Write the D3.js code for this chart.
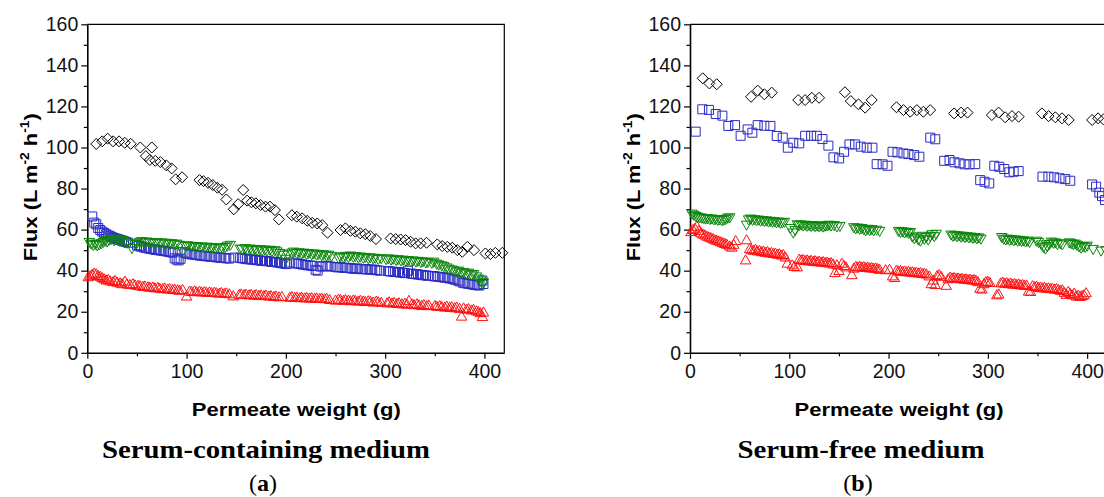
<!DOCTYPE html>
<html>
<head>
<meta charset="utf-8">
<script src="https://cdn.jsdelivr.net/npm/d3@7"></script>
<style>
  html, body { margin: 0; padding: 0; background: #fff; }
  svg { display: block; }
  .tick text { font-family: "Liberation Sans", Arial, sans-serif; font-size: 19.5px; fill: #111; }
</style>
</head>
<body>
<svg id="chart" width="1104" height="497"></svg>
<script>
// ---- axis ticks ----
const xTickValues = [0, 100, 200, 300, 400];
const xMinorTicks = [50, 150, 250, 350];
const yTickValues = [0, 20, 40, 60, 80, 100, 120, 140, 160];
const yMinorTicks = [10, 30, 50, 70, 90, 110, 130, 150];

// ---- (a) serum-containing medium: [permeate weight g, flux L m-2 h-1] ----
const aDiamond = [[9,101.7],[15,103],[20.5,104.3],[26,103],[32,103],[37.7,102.3],[43.7,101.8],[53.4,100],[59,95.8],[63,93.9],[65,100],[68.5,93.5],[73.6,92.9],[79.6,91.3],[85,89.8],[89,84.5],[95.5,85.5],[113,84.1],[117,83.6],[121.6,82.8],[126.4,81.7],[131,80.4],[135.8,79.4],[140,74.7],[147.5,69.9],[152,72.4],[157,79.3],[161,74.1],[165.3,73.3],[169.8,72.8],[174.5,72],[179.5,71.2],[184,71.2],[189,69.5],[193,65],[206,67],[211,66.3],[216.4,65.5],[221.5,64.3],[226.5,63.3],[231.6,63],[236.6,62.2],[242,58.5],[255,59.8],[260,60.6],[265,59.4],[270,59],[275,58.2],[280,57.8],[285,56.9],[290.7,55.4],[305.5,55.7],[310.6,55.4],[315.6,55.2],[320.6,54.9],[325.6,54.1],[330.7,53.3],[335.7,53.3],[341.7,53.6],[352.5,52.8],[357.5,52],[362.6,51.6],[367.6,51.2],[372.7,50],[377.7,49.2],[382.8,51.6],[389.5,50],[401,48.4],[406,48.1],[411,48.7],[418,48.7]];

const aSquare = [[5,66.4],[7,63.4],[9,62.6],[11,60.8],[13,59.8],[15,59.0],[17,58.4],[19,57.8],[21,57.2],[23,56.8],[25,56.3],[27,55.9],[29,55.6],[31,55.3],[33,55.0],[35,54.6],[37,54.3],[39,54.0],[41,53.6],
  [50,52.4],[52,52.0],[54,51.7],[57,51.3],[59,51.0],[62,50.8],[64,50.5],[67,50.4],[69,50.1],[72,50.0],[74,49.8],[77,49.6],[79,49.4],[82,49.2],[84,49.0],[86,48.8],[88,46.0],[90,45.4],[92,45.0],[94,45.8],
  [98,48.8],[100,48.4],[103,48.2],[105,47.9],[108,47.8],[110,47.6],[113,47.4],[115,47.3],[118,47.2],[120,47.0],[123,46.9],[125,46.8],[128,46.7],[130,46.5],[133,46.4],[135,46.3],[138,46.2],[140,46.0],[143,45.9],[148,46.4],
  [154,46.2],[156,46.0],[159,45.8],[161,45.6],[164,45.5],[166,45.4],[169,45.3],[171,45.1],[174,45.0],[176,44.8],[179,44.7],[181,44.6],[184,44.5],[186,44.3],[189,44.2],[191,44.0],[194,43.8],[196,43.6],[199,43.4],[201,43.2],[204,44.0],
  [210,43.6],[212,43.4],[215,43.2],[217,43.0],[220,42.8],[222,42.6],[225,42.5],[227,42.3],[230,40.4],[232,40.0],[235,42.0],[237,42.2],[240,42.4],[242,42.2],[245,42.0],
  [250,41.8],[252,41.6],[255,41.7],[257,41.5],[260,41.3],[262,41.4],[265,41.2],[267,41.0],[270,40.9],[272,41.1],[275,40.8],[277,40.7],[280,40.8],[282,40.6],[285,40.5],[287,40.6],[290,40.3],[292,40.2],[295,40.0],
  [303,39.8],[305,39.6],[308,39.5],[310,39.3],[313,39.4],[315,39.1],[318,39.0],[320,38.8],[323,40.0],[326,38.6],[328,38.4],[331,38.3],[333,38.1],[336,38.0],[338,37.8],[341,37.7],[343,37.5],
  [348,37.4],[350,37.2],[353,37.1],[355,36.9],[358,36.8],[360,36.6],[363,36.5],[365,36.2],[368,36.0],[370,35.6],[373,35.2],[375,34.8],[378,34.2],[380,33.9],[383,33.7],[385,33.5],[388,33.3],[390,33.1],[393,32.9],[395,32.8],[398,35.2],[399,33.5]];

const aUp = [[1,37.0],[3,37.5],[5,38.2],[7,38.8],[9,38.4],[11,37.6],[13,37.2],[15,36.6],[17,36.0],[19,35.4],[21,35.7],[23,35.0],[26,34.6],[28,35.2],[30,34.4],[33,34.0],[35,33.6],[38,34.8],[40,33.5],[43,33.2],
  [46,33.6],[48,33.0],[51,32.8],[53,32.6],[56,32.3],[58,32.5],[61,32.1],[63,31.9],[66,32.0],[68,31.6],[71,31.8],[73,31.4],[76,31.2],[78,31.5],[81,31.0],[83,31.2],[86,30.8],[88,30.9],[91,30.6],[93,30.4],[96,30.8],
  [100,27.6],
  [103,30.0],[105,29.8],[108,30.1],[110,29.7],[113,29.9],[115,29.6],[118,29.8],[120,29.4],[123,29.6],[125,29.3],[128,29.5],[130,29.2],[133,29.0],[135,29.3],[138,28.9],[140,29.1],[143,28.7],[147,27.7],
  [153,28.4],[155,28.6],[158,28.3],[160,28.5],[163,28.2],[165,28.4],[168,28.0],[170,28.3],[173,27.9],[175,28.1],[178,27.8],[180,28.0],[183,27.6],[185,27.8],[188,27.4],[190,27.6],[193,27.2],[196,27.4],
  [204,27.0],[206,27.3],[209,26.9],[211,27.1],[214,26.8],[216,27.0],[219,26.7],[221,26.9],[224,26.6],[226,26.8],[229,26.5],[231,26.7],[234,26.4],[236,26.6],[239,26.3],[241,26.5],[244,25.9],
  [250,25.6],[253,26.1],[255,25.8],[258,25.5],[260,25.9],[263,25.6],[265,25.3],[268,25.7],[270,25.4],[273,25.1],[275,25.5],[278,25.2],[280,24.9],[283,25.3],[285,25.0],[288,24.7],[291,25.1],[293,24.8],[296,24.5],
  [302,24.3],[304,24.8],[307,24.2],[309,24.5],[312,24.0],[314,24.3],[317,23.8],[320,24.1],[322,23.6],[324,25.5],[327,23.7],[329,23.4],[332,23.8],[334,23.3],[337,23.0],[339,23.4],[342,22.9],[344,23.2],
  [350,23.0],[352,22.6],[355,22.9],[357,22.5],[360,22.2],[362,22.7],[365,22.1],[367,22.4],[370,21.9],[372,22.2],[375,21.6],[377,17.8],[379,21.8],[382,21.2],[384,21.5],[387,20.8],[389,21.1],[392,20.4],[394,20.0],[396,19.5],[398,17.6],[399,19.8]];

const aDown = [[2,53.8],[4,53.0],[6,52.4],[8,52.8],[10,52.2],[12,52.6],[14,53.2],[16,53.8],[18,54.4],[20,54.0],[22,54.8],[24,55.2],[27,54.6],[29,55.4],[31,54.8],[33,54.3],[35,54.9],[37,54.0],[40,53.4],
  [45,50.8],
  [48,52.8],[50,53.4],[53,53.9],[55,54.2],[58,53.6],[60,54.0],[63,53.5],[65,53.8],[68,53.3],[70,53.7],[73,53.2],[75,53.6],[78,53.0],[80,53.4],[83,52.9],[85,53.2],[88,52.7],[90,53.0],[93,52.4],
  [96,49.4],
  [99,51.8],[101,52.2],[104,51.6],[106,51.9],[109,51.4],[111,51.8],[114,51.2],[116,51.6],[119,51.1],[121,51.5],[124,51.0],[126,51.3],[129,50.9],[131,51.2],[134,50.7],[136,51.0],[139,51.3],[141,52.0],[144,52.4],
  [154,50.6],[156,50.3],[159,50.8],[161,50.2],[164,50.6],[166,50.0],[169,50.4],[171,49.9],[174,50.3],[176,49.7],[179,50.1],[181,49.6],[184,50.0],[186,49.4],[189,49.8],[191,49.2],[194,48.4],[197,47.6],[200,45.6],[202,47.8],
  [206,48.6],[208,49.1],[211,48.4],[213,48.8],[216,48.2],[218,48.6],[221,48.0],[223,48.4],[226,47.8],[228,48.2],[231,47.6],[233,48.0],[236,47.4],[238,47.8],[241,47.2],[243,47.6],[246,47.0],
  [253,46.2],[255,46.8],[258,46.4],[260,47.0],[263,46.5],[265,47.2],[268,46.6],[270,46.9],[273,46.3],[275,46.7],[278,46.1],[280,46.5],[283,45.9],[285,46.3],[288,45.8],[290,46.1],[293,45.5],[296,45.9],
  [301,45.4],[303,45.8],[306,45.2],[308,45.6],[311,45.0],[313,45.4],[316,44.8],[318,45.2],[321,44.6],[323,45.0],[326,44.4],[328,44.8],[331,44.2],[333,44.6],[336,44.0],[338,44.4],[341,43.8],[343,44.1],
  [347,43.6],[349,44.2],[352,43.2],[354,42.8],[357,42.4],[359,42.0],[362,41.4],[364,40.8],[367,40.4],[369,40.0],[372,39.4],[374,39.8],[377,38.8],[379,39.2],[382,38.4],[384,38.8],[387,37.8],[389,38.2],[392,37.0],[394,36.0],[396,35.0],[398,33.4],[399,34.2]];

// ---- (b) serum-free medium ----
const bDiamond = [[12.8,133.7],[19.5,131.2],[26.9,130.8],[61.5,124.7],[68.2,127.7],[74.9,125.9],[82.3,126.7],[109,123.1],[116,123.1],[122.7,124.2],[130,124.2],[156,126.9],[162,122.6],[169.7,121],[176.4,119.4],[183,123.1],[208,119.6],[215,118.2],[221.8,117.4],[228.5,118.2],[235,117.4],[241.9,118.2],[266,116.6],[273,117],[279.5,117],[304,115.8],[310.8,117],[317.5,114.7],[324.3,115.3],[331,115],[354.5,116.6],[361.2,115.3],[368,114.7],[374.7,114.2],[381.4,113.4],[405,113.4],[411,114.2],[416.5,113.7]];

const bSquare = [[5.7,107.7],[12.4,118.6],[19.1,118.3],[25.9,116.3],[32.6,115.5],[38.6,110.5],[45.4,110.9],[51,105.7],[58,108.8],[62.8,107.2],[68.2,110.9],[74.9,110.6],[81,110.5],[87.4,105.6],[93.4,104.8],[98.5,99.9],[104,102.3],[110,102],[116,105.7],[122,105.7],[127.7,105.7],[133.4,104.1],[139.4,100.9],[144.5,95.2],[150.2,94.7],[155.2,97.9],[160.6,101.5],[166.3,101.5],[172,100.4],[178,99.9],[183.7,99.9],[188,91.9],[194,91.8],[198.9,91.1],[204,97.9],[209,97.6],[215,97.1],[220,96.8],[225.8,96.3],[231,95.5],[242,104.8],[247,104],[256,93.5],[261.4,93.9],[266.4,92.8],[271.5,92.3],[276.5,91.8],[281.6,91.8],[287.3,91.9],[292.3,84.1],[296.7,83.3],[301.4,82.5],[306.5,91.1],[311.5,90.6],[316.5,89.5],[321.6,87.9],[326,88.2],[331,88.5],[355,85.8],[361,85.8],[366.8,85.5],[372.2,85],[378,84.6],[383,83.8],[405,82],[409,80.9],[412.3,78],[415,76.3],[418,74.4]];

const bUp = [[1,59.0],[3,60.0],[5,60.6],[7,61.6],[9,59.5],[11,58.4],[13,57.8],[15,57.4],[17,56.8],[19,56.4],[21,56.0],[23,55.6],[25,55.0],[27,54.8],[29,54.4],[31,54.0],[33,53.6],[35,53.2],[37,52.8],[40,52.0],[42,51.4],[44,52.8],[46,54.6],
  [56,45.2],[57,55.0],
  [60,50.6],[62,50.2],[64,49.9],[66,50.4],[68,49.6],[70,49.8],[72,49.2],[74,49.5],[76,48.9],[78,49.2],[80,48.6],[82,48.8],[84,48.3],[86,48.5],[88,48.0],[90,48.2],[92,47.6],[94,47.8],[96,46.6],[98,43.6],
  [103,42.8],[105,42.0],[108,41.8],[110,45.6],[112,45.2],[114,45.4],[116,44.9],[118,45.2],[120,44.7],[122,45.0],[124,44.5],[126,44.8],[128,44.3],[130,44.6],[132,44.1],[134,44.4],[136,43.9],[138,44.1],[140,43.7],[142,43.9],[144,43.2],[146,39.0],[148,42.8],[150,40.0],[153,43.6],[155,42.5],[157,41.8],
  [163,38.0],[165,41.2],[167,42.0],[169,41.8],[171,42.1],[173,41.7],[175,41.9],[177,41.5],[179,41.7],[181,41.3],[183,41.5],[185,41.1],[187,41.3],[189,40.9],[191,40.6],[197,40.4],
  [201,40.6],[204,37.4],[206,36.6],[208,40.2],[210,39.8],[212,40.0],[214,39.6],[216,39.8],[218,39.4],[220,39.6],[222,39.2],[224,39.4],[226,39.0],[228,39.2],[230,38.8],[232,39.0],[234,38.6],[236,38.7],[238,38.3],[241,37.4],[243,33.6],[245,35.4],[247,33.2],[249,37.6],[251,38.0],[253,37.2],
  [258,32.8],[260,36.0],[262,36.8],[264,36.4],[266,36.6],[268,36.2],[270,36.4],[272,36.0],[274,36.2],[276,35.8],[278,36.0],[280,35.6],[282,35.8],[284,35.4],[286,35.6],[288,35.2],[290,34.6],[292,31.4],[294,31.0],[296,33.6],[298,34.6],[300,34.8],[302,34.2],
  [309,28.2],[311,28.6],
  [313,34.0],[315,34.4],[317,33.8],[319,34.1],[321,33.6],[323,33.9],[325,33.4],[327,33.7],[329,33.2],[331,33.5],[333,33.0],[335,33.2],[337,32.8],[339,32.9],[341,30.0],[343,29.8],
  [345,32.6],[347,32.2],[349,32.4],[351,31.8],[353,32.0],[355,31.6],[357,31.8],[359,31.4],[361,31.6],[363,31.2],[365,31.4],[367,31.0],[369,31.2],[371,30.8],[373,30.4],[375,30.6],[377,29.4],[379,28.4],[381,29.8],[383,28.8],[385,28.2],[387,29.0],[389,27.6],[391,28.0],[393,27.4],[395,27.8],[397,28.2],[399,29.2]];

const bDown = [[2,67.6],[4,67.0],[6,66.4],[8,66.0],[10,65.8],[12,65.6],[14,65.4],[16,65.2],[18,65.4],[20,65.0],[22,65.2],[24,64.8],[26,65.0],[28,64.6],[30,64.8],[32,64.4],[34,64.6],[36,65.0],[38,65.6],[40,65.8],
  [57,62.2],[59,64.8],[61,65.2],[63,64.6],[65,64.9],[67,64.4],[69,64.7],[71,64.2],[73,64.5],[75,64.0],[77,64.3],[79,63.8],[81,64.1],[83,63.6],[85,63.9],[87,63.4],[89,63.7],[91,63.2],[93,63.4],[95,63.6],
  [101,60.6],[104,58.4],[106,59.6],[108,62.4],[110,62.0],[112,62.3],[114,61.8],[116,62.2],[118,61.7],[120,62.0],[122,61.6],[124,62.0],[126,61.5],[128,61.8],[130,61.4],[132,61.8],[134,61.3],[136,61.7],[138,61.9],[140,62.2],[142,61.8],[145,62.0],[148,61.4],[151,61.6],
  [165,61.0],[167,60.4],[169,60.8],[171,60.2],[173,60.6],[175,60.0],[177,59.4],[179,60.2],[181,59.6],[183,60.0],[185,59.4],[188,59.8],[191,59.2],
  [210,59.2],[212,58.6],[214,59.0],[216,58.4],[218,58.8],[220,58.2],[222,58.6],[224,56.4],[226,55.6],[228,56.4],[230,55.0],[232,54.4],[234,56.8],[236,55.4],[238,56.2],[240,55.0],[242,56.8],[244,57.6],[246,56.6],[248,57.8],
  [263,57.4],[265,56.8],[267,57.2],[269,56.6],[271,57.0],[273,56.4],[275,56.8],[277,56.2],[279,56.6],[281,56.0],[283,56.4],[285,55.8],[287,56.2],[289,55.6],[291,56.0],[293,55.4],
  [314,56.2],[316,55.4],[318,55.0],[320,55.4],[322,54.8],[324,55.2],[326,54.6],[328,55.0],[330,54.4],[332,54.8],[334,54.2],[336,54.6],[338,54.0],[340,54.4],[342,53.8],
  [349,54.4],[351,53.8],[354,52.6],[356,51.4],[358,50.6],[360,51.8],[362,52.8],[364,54.0],[366,53.4],[368,53.6],[370,52.8],[373,53.2],[375,52.6],
  [382,53.6],[384,53.2],[386,52.8],[388,53.0],[390,52.4],[392,51.6],[394,51.0],[396,51.8],[398,51.4],[400,52.0],[406,50.4],[414,49.6],[419,49.8]];

// ---- marker shapes ----
const shapes = {
  diamond: r => `M0,${-r}L${r},0L0,${r}L${-r},0Z`,
  square: r => `M${-r},${-r}H${r}V${r}H${-r}Z`,
  up: r => `M0,${-r}L${r},${r * 0.75}L${-r},${r * 0.75}Z`,
  down: r => `M0,${r}L${r},${-r * 0.75}L${-r},${-r * 0.75}Z`
};

const svg = d3.select("#chart");
const plotW = 417, plotH = 328.5;

function drawPanel(left, top, series, subtitle, tag) {
  const g = svg.append("g").attr("transform", `translate(${left},${top})`);
  const x = d3.scaleLinear().domain([0, 420]).range([0, plotW]);
  const y = d3.scaleLinear().domain([0, 160]).range([plotH, 0]);

  // frame: top and right edges
  g.append("path")
    .attr("d", `M0,0H${plotW}V${plotH}`)
    .attr("fill", "none").attr("stroke", "#000").attr("stroke-width", 1.2);

  // minor ticks
  g.append("g").attr("transform", `translate(0,${plotH})`)
    .call(d3.axisBottom(x).tickValues(xMinorTicks).tickSize(3.5).tickFormat(""))
    .call(a => a.select(".domain").remove());
  g.append("g")
    .call(d3.axisLeft(y).tickValues(yMinorTicks).tickSize(3.5).tickFormat(""))
    .call(a => a.select(".domain").remove());

  // major axes
  const xa = g.append("g").attr("transform", `translate(0,${plotH})`)
    .call(d3.axisBottom(x).tickValues(xTickValues).tickSize(6).tickSizeOuter(0).tickPadding(5));
  const ya = g.append("g")
    .call(d3.axisLeft(y).tickValues(yTickValues).tickSize(6).tickSizeOuter(0).tickPadding(3));
  [xa, ya].forEach(a => {
    a.select(".domain").attr("stroke", "#000").attr("stroke-width", 1.6);
    a.selectAll(".tick line").attr("stroke", "#000");
    a.selectAll(".tick text").attr("font-family", null).attr("font-size", null);
  });
  g.selectAll(".tick line").attr("stroke-width", 1.2);

  // series markers
  series.forEach(s => {
    g.append("g")
      .selectAll("path")
      .data(s.data)
      .join("path")
      .attr("transform", d => `translate(${x(d[0])},${y(d[1])})`)
      .attr("d", shapes[s.shape](s.r))
      .attr("fill", "none")
      .attr("stroke", s.color)
      .attr("stroke-width", s.width);
  });

  // axis titles
  svg.append("text")
    .attr("x", left + 209).attr("y", 416)
    .attr("text-anchor", "middle")
    .attr("font-family", "Liberation Sans, Arial, sans-serif")
    .attr("font-weight", "bold").attr("font-size", 18)
    .attr("textLength", 209).attr("lengthAdjust", "spacingAndGlyphs")
    .text("Permeate weight (g)");

  const yt = svg.append("text")
    .attr("transform", `translate(${left - 50},${top + 163}) rotate(-90)`)
    .attr("text-anchor", "middle")
    .attr("font-family", "Liberation Sans, Arial, sans-serif")
    .attr("font-weight", "bold").attr("font-size", 19)
    .attr("textLength", 148).attr("lengthAdjust", "spacingAndGlyphs");
  yt.append("tspan").text("Flux (L m");
  yt.append("tspan").attr("font-size", 12).attr("dy", -8).text("-2");
  yt.append("tspan").attr("dy", 8).text(" h");
  yt.append("tspan").attr("font-size", 12).attr("dy", -8).text("-1");
  yt.append("tspan").attr("dy", 8).text(")");

  // panel captions
  svg.append("text")
    .attr("x", subtitle.cx).attr("y", 458)
    .attr("text-anchor", "middle")
    .attr("font-family", "Liberation Serif, 'DejaVu Serif', serif")
    .attr("font-weight", "bold").attr("font-size", 25)
    .attr("textLength", subtitle.w).attr("lengthAdjust", "spacingAndGlyphs")
    .text(subtitle.text);

  const tg = svg.append("text")
    .attr("x", subtitle.cx - 3).attr("y", 491)
    .attr("text-anchor", "middle")
    .attr("font-family", "Liberation Serif, 'DejaVu Serif', serif")
    .attr("font-size", 24);
  tg.append("tspan").text("(");
  tg.append("tspan").attr("font-weight", "bold").text(tag);
  tg.append("tspan").text(")");
}

const styleDiamond = { shape: "diamond", r: 5.5, color: "#000", width: 1 };
const styleSquare = { shape: "square", r: 4.5, color: "#2a2ac4", width: 1 };
const styleUp = { shape: "up", r: 5.2, color: "#ff1010", width: 1 };
const styleDown = { shape: "down", r: 5.2, color: "#0a870a", width: 1 };

drawPanel(87.3, 24.3, [
  { ...styleUp, data: aUp },
  { ...styleSquare, data: aSquare },
  { ...styleDown, data: aDown },
  { ...styleDiamond, data: aDiamond }
], { text: "Serum-containing medium", cx: 266, w: 328 }, "a");

drawPanel(690, 24.3, [
  { ...styleUp, data: bUp },
  { ...styleSquare, data: bSquare },
  { ...styleDown, data: bDown },
  { ...styleDiamond, data: bDiamond }
], { text: "Serum-free medium", cx: 861, w: 247 }, "b");
</script>
</body>
</html>
